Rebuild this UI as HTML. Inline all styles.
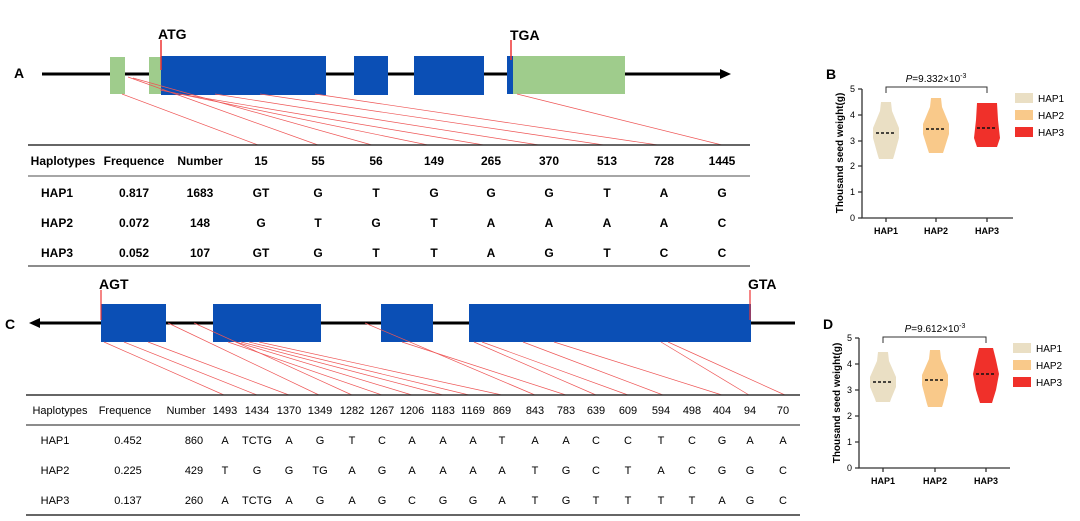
<!DOCTYPE html><html><head><meta charset="utf-8"><style>body{margin:0;background:#fff}svg{display:block}</style></head><body>
<svg width="1080" height="521" viewBox="0 0 1080 521" xmlns="http://www.w3.org/2000/svg" font-family="Liberation Sans, sans-serif">
<!-- Panel A -->
<text x="14" y="78" font-size="14" font-weight="bold">A</text>
<line x1="42" y1="74" x2="722" y2="74" stroke="#000" stroke-width="3"/>
<polygon points="720,69 731,74 720,79" fill="#000"/>
<rect x="110" y="57" width="15" height="37" fill="#9fcc8c"/>
<rect x="149" y="57" width="12" height="37" fill="#9fcc8c"/>
<rect x="161" y="56" width="165" height="39" fill="#0b4fb5"/>
<rect x="354" y="56" width="34" height="39" fill="#0b4fb5"/>
<rect x="414" y="56" width="70" height="39" fill="#0b4fb5"/>
<rect x="507" y="56" width="6" height="38" fill="#0b4fb5"/>
<rect x="513" y="56" width="112" height="38" fill="#9fcc8c"/>
<line x1="161" y1="40" x2="161" y2="70" stroke="#e33" stroke-width="1.5"/>
<line x1="511" y1="40" x2="511" y2="60" stroke="#e33" stroke-width="1.5"/>
<text x="158" y="39" font-size="14" font-weight="bold">ATG</text>
<text x="510" y="40" font-size="14" font-weight="bold">TGA</text>
<g stroke="#e55" stroke-width="0.7">
<line x1="122" y1="94" x2="258" y2="145"/><line x1="128" y1="77" x2="318" y2="145"/><line x1="133" y1="78" x2="372" y2="145"/><line x1="160" y1="90" x2="428" y2="145"/><line x1="180" y1="94" x2="484" y2="145"/><line x1="215" y1="94" x2="539" y2="145"/><line x1="260" y1="94" x2="604" y2="145"/><line x1="315" y1="94" x2="658" y2="145"/><line x1="517" y1="94" x2="722" y2="145"/>
</g>
<line x1="28" y1="145" x2="750" y2="145" stroke="#333" stroke-width="1.5"/>
<line x1="28" y1="176" x2="750" y2="176" stroke="#888" stroke-width="1.5"/>
<line x1="28" y1="266" x2="750" y2="266" stroke="#666" stroke-width="1.5"/>
<g font-size="12" font-weight="bold" text-anchor="middle">
<text x="63" y="165">Haplotypes</text><text x="134" y="165">Frequence</text><text x="200" y="165">Number</text>
<text x="261" y="165">15</text><text x="318" y="165">55</text><text x="376" y="165">56</text><text x="434" y="165">149</text><text x="491" y="165">265</text><text x="549" y="165">370</text><text x="607" y="165">513</text><text x="664" y="165">728</text><text x="722" y="165">1445</text>
<text x="57" y="197">HAP1</text><text x="134" y="197">0.817</text><text x="200" y="197">1683</text><text x="261" y="197">GT</text><text x="318" y="197">G</text><text x="376" y="197">T</text><text x="434" y="197">G</text><text x="491" y="197">G</text><text x="549" y="197">G</text><text x="607" y="197">T</text><text x="664" y="197">A</text><text x="722" y="197">G</text>
<text x="57" y="227">HAP2</text><text x="134" y="227">0.072</text><text x="200" y="227">148</text><text x="261" y="227">G</text><text x="318" y="227">T</text><text x="376" y="227">G</text><text x="434" y="227">T</text><text x="491" y="227">A</text><text x="549" y="227">A</text><text x="607" y="227">A</text><text x="664" y="227">A</text><text x="722" y="227">C</text>
<text x="57" y="257">HAP3</text><text x="134" y="257">0.052</text><text x="200" y="257">107</text><text x="261" y="257">GT</text><text x="318" y="257">G</text><text x="376" y="257">T</text><text x="434" y="257">T</text><text x="491" y="257">A</text><text x="549" y="257">G</text><text x="607" y="257">T</text><text x="664" y="257">C</text><text x="722" y="257">C</text>
</g>
<!-- Panel C -->
<text x="5" y="329" font-size="14" font-weight="bold">C</text>
<line x1="38" y1="323" x2="795" y2="323" stroke="#000" stroke-width="3"/>
<polygon points="40,318 29,323 40,328" fill="#000"/>
<rect x="101" y="304" width="65" height="38" fill="#0b4fb5"/>
<rect x="213" y="304" width="108" height="38" fill="#0b4fb5"/>
<rect x="381" y="304" width="52" height="38" fill="#0b4fb5"/>
<rect x="469" y="304" width="282" height="38" fill="#0b4fb5"/>
<line x1="101" y1="290" x2="101" y2="320" stroke="#e33" stroke-width="1.2"/>
<line x1="750" y1="290" x2="750" y2="320" stroke="#e33" stroke-width="1.2"/>
<text x="99" y="289" font-size="14" font-weight="bold">AGT</text>
<text x="748" y="289" font-size="14" font-weight="bold">GTA</text>
<g stroke="#e55" stroke-width="0.7">
<line x1="104" y1="342" x2="224" y2="395"/><line x1="124" y1="342" x2="257" y2="395"/><line x1="148" y1="342" x2="289" y2="395"/><line x1="168" y1="323" x2="319" y2="395"/><line x1="194" y1="323" x2="352" y2="395"/><line x1="228" y1="342" x2="382" y2="395"/><line x1="236" y1="342" x2="412" y2="395"/><line x1="241" y1="342" x2="443" y2="395"/><line x1="249" y1="342" x2="469" y2="395"/><line x1="259" y1="342" x2="502" y2="395"/><line x1="365" y1="323" x2="535" y2="395"/><line x1="402" y1="342" x2="566" y2="395"/><line x1="474" y1="342" x2="596" y2="395"/><line x1="482" y1="342" x2="628" y2="395"/><line x1="523" y1="342" x2="663" y2="395"/><line x1="554" y1="342" x2="722" y2="395"/><line x1="661" y1="342" x2="749" y2="395"/><line x1="668" y1="342" x2="785" y2="395"/>
</g>
<line x1="26" y1="395" x2="800" y2="395" stroke="#333" stroke-width="1.5"/>
<line x1="26" y1="425" x2="800" y2="425" stroke="#666" stroke-width="1.5"/>
<line x1="26" y1="515" x2="800" y2="515" stroke="#333" stroke-width="1.5"/>
<g font-size="11" text-anchor="middle">
<text x="60" y="414">Haplotypes</text><text x="125" y="414">Frequence</text><text x="186" y="414">Number</text>
<text x="225" y="414">1493</text><text x="257" y="414">1434</text><text x="289" y="414">1370</text><text x="320" y="414">1349</text><text x="352" y="414">1282</text><text x="382" y="414">1267</text><text x="412" y="414">1206</text><text x="443" y="414">1183</text><text x="473" y="414">1169</text><text x="502" y="414">869</text><text x="535" y="414">843</text><text x="566" y="414">783</text><text x="596" y="414">639</text><text x="628" y="414">609</text><text x="661" y="414">594</text><text x="692" y="414">498</text><text x="722" y="414">404</text><text x="750" y="414">94</text><text x="783" y="414">70</text>
<text x="55" y="444">HAP1</text><text x="128" y="444">0.452</text><text x="194" y="444">860</text><text x="225" y="444">A</text><text x="257" y="444">TCTG</text><text x="289" y="444">A</text><text x="320" y="444">G</text><text x="352" y="444">T</text><text x="382" y="444">C</text><text x="412" y="444">A</text><text x="443" y="444">A</text><text x="473" y="444">A</text><text x="502" y="444">T</text><text x="535" y="444">A</text><text x="566" y="444">A</text><text x="596" y="444">C</text><text x="628" y="444">C</text><text x="661" y="444">T</text><text x="692" y="444">C</text><text x="722" y="444">G</text><text x="750" y="444">A</text><text x="783" y="444">A</text>
<text x="55" y="474">HAP2</text><text x="128" y="474">0.225</text><text x="194" y="474">429</text><text x="225" y="474">T</text><text x="257" y="474">G</text><text x="289" y="474">G</text><text x="320" y="474">TG</text><text x="352" y="474">A</text><text x="382" y="474">G</text><text x="412" y="474">A</text><text x="443" y="474">A</text><text x="473" y="474">A</text><text x="502" y="474">A</text><text x="535" y="474">T</text><text x="566" y="474">G</text><text x="596" y="474">C</text><text x="628" y="474">T</text><text x="661" y="474">A</text><text x="692" y="474">C</text><text x="722" y="474">G</text><text x="750" y="474">G</text><text x="783" y="474">C</text>
<text x="55" y="504">HAP3</text><text x="128" y="504">0.137</text><text x="194" y="504">260</text><text x="225" y="504">A</text><text x="257" y="504">TCTG</text><text x="289" y="504">A</text><text x="320" y="504">G</text><text x="352" y="504">A</text><text x="382" y="504">G</text><text x="412" y="504">C</text><text x="443" y="504">G</text><text x="473" y="504">G</text><text x="502" y="504">A</text><text x="535" y="504">T</text><text x="566" y="504">G</text><text x="596" y="504">T</text><text x="628" y="504">T</text><text x="661" y="504">T</text><text x="692" y="504">T</text><text x="722" y="504">A</text><text x="750" y="504">G</text><text x="783" y="504">C</text>
</g>
<!-- Panel B -->
<text x="826" y="79" font-size="14" font-weight="bold">B</text>
<g stroke="#333" stroke-width="1.3" fill="none">
<path d="M862,89 V218 H1013"/>
<path d="M858,89H862M858,115H862M858,141H862M858,166H862M858,192H862M858,218H862M886,218V222M936,218V222M987,218V222"/>
<path d="M886,93V87H987V93" stroke-width="1"/>
</g>
<g font-size="9" text-anchor="end"><text x="855" y="92">5</text><text x="855" y="118">4</text><text x="855" y="144">3</text><text x="855" y="169">2</text><text x="855" y="195">1</text><text x="855" y="221">0</text></g>
<text x="936" y="82" font-size="10" text-anchor="middle"><tspan font-style="italic">P</tspan>=9.332×10<tspan font-size="7" dy="-4">-3</tspan></text>
<text transform="translate(843,153) rotate(-90)" font-size="10" font-weight="bold" text-anchor="middle">Thousand seed weight(g)</text>
<g font-size="9" font-weight="bold" text-anchor="middle"><text x="886" y="234">HAP1</text><text x="936" y="234">HAP2</text><text x="987" y="234">HAP3</text></g>
<polygon fill="#eadfc4" points="881,102 891,102 892,111 899,128 899,138 894,156 893,159 879,159 878,156 873,138 873,128 880,111"/>
<polygon fill="#f9c98a" points="931,98 941,98 942,107 949,124 949,134 944,150 943,153 929,153 928,150 923,134 923,124 930,107"/>
<polygon fill="#f0302a" points="977,103 997,103 998,120 1000,138 997,147 977,147 974,138 976,120"/>
<g stroke="#111" stroke-width="1.5" stroke-dasharray="3,2"><line x1="876" y1="133" x2="896" y2="133"/><line x1="926" y1="129" x2="946" y2="129"/><line x1="977" y1="128" x2="997" y2="128"/></g>
<rect x="1015" y="93" width="18" height="10" fill="#eadfc4"/><rect x="1015" y="110" width="18" height="10" fill="#f9c98a"/><rect x="1015" y="127" width="18" height="10" fill="#f0302a"/>
<g font-size="10"><text x="1038" y="102">HAP1</text><text x="1038" y="119">HAP2</text><text x="1038" y="136">HAP3</text></g>
<!-- Panel D -->
<text x="823" y="329" font-size="14" font-weight="bold">D</text>
<g stroke="#333" stroke-width="1.3" fill="none">
<path d="M859,338 V468 H1010"/>
<path d="M855,338H859M855,364H859M855,390H859M855,416H859M855,442H859M855,468H859M883,468V472M935,468V472M986,468V472"/>
<path d="M883,343V337H986V343" stroke-width="1"/>
</g>
<g font-size="9" text-anchor="end"><text x="852" y="341">5</text><text x="852" y="367">4</text><text x="852" y="393">3</text><text x="852" y="419">2</text><text x="852" y="445">1</text><text x="852" y="471">0</text></g>
<text x="935" y="332" font-size="10" text-anchor="middle"><tspan font-style="italic">P</tspan>=9.612×10<tspan font-size="7" dy="-4">-3</tspan></text>
<text transform="translate(840,403) rotate(-90)" font-size="10" font-weight="bold" text-anchor="middle">Thousand seed weight(g)</text>
<g font-size="9" font-weight="bold" text-anchor="middle"><text x="883" y="484">HAP1</text><text x="935" y="484">HAP2</text><text x="986" y="484">HAP3</text></g>
<polygon fill="#eadfc4" points="878,352 888,352 889,361 896,377 896,387 891,399 890,402 876,402 875,399 870,387 870,377 877,361"/>
<polygon fill="#f9c98a" points="930,350 940,350 941,359 948,375 948,385 943,404 942,407 928,407 927,404 922,385 922,375 929,359"/>
<polygon fill="#f0302a" points="979,348 993,348 996,360 999,374 996,390 992,403 980,403 976,390 973,374 976,360"/>
<g stroke="#111" stroke-width="1.5" stroke-dasharray="3,2"><line x1="873" y1="382" x2="893" y2="382"/><line x1="925" y1="380" x2="945" y2="380"/><line x1="976" y1="374" x2="996" y2="374"/></g>
<rect x="1013" y="343" width="18" height="10" fill="#eadfc4"/><rect x="1013" y="360" width="18" height="10" fill="#f9c98a"/><rect x="1013" y="377" width="18" height="10" fill="#f0302a"/>
<g font-size="10"><text x="1036" y="352">HAP1</text><text x="1036" y="369">HAP2</text><text x="1036" y="386">HAP3</text></g>
</svg>
</body></html>
